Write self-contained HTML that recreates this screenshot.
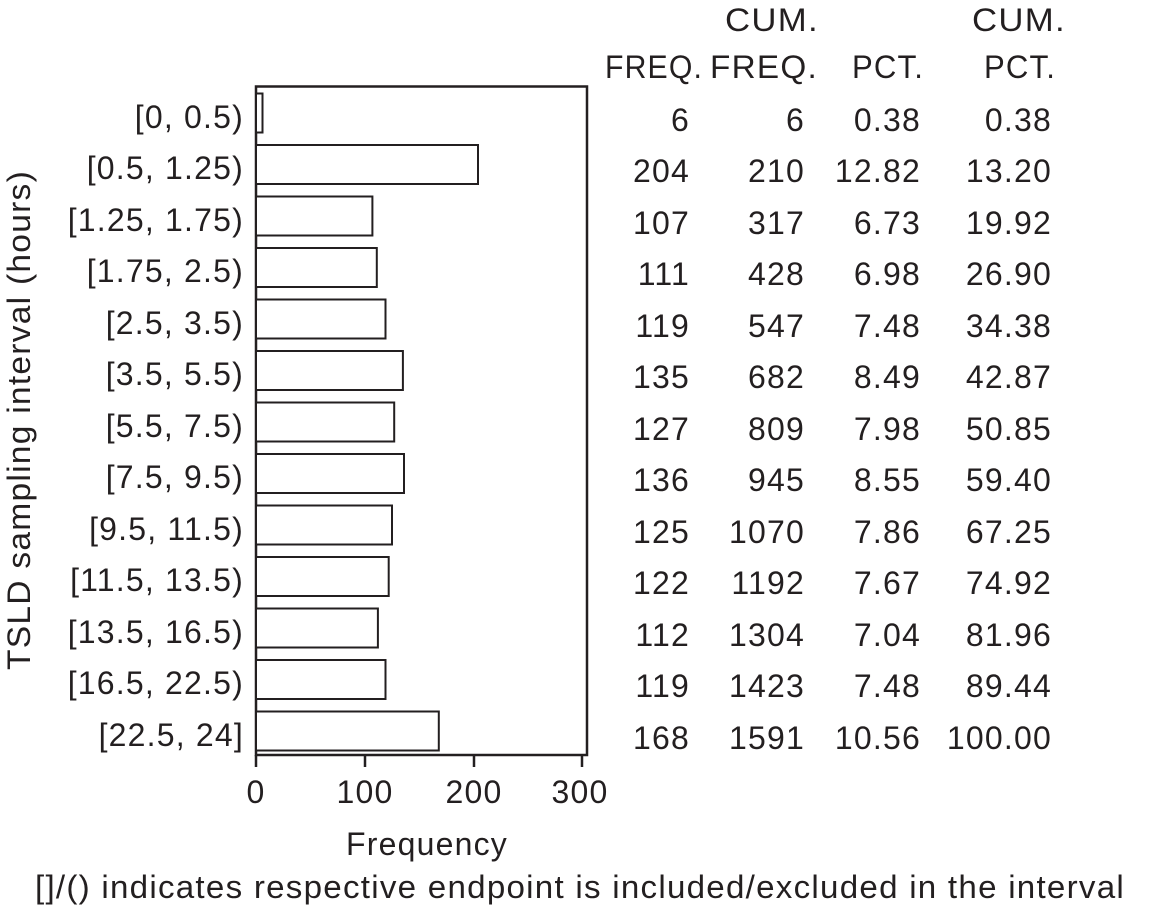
<!DOCTYPE html>
<html><head><meta charset="utf-8"><style>
html,body{margin:0;padding:0;background:#fff}
svg{display:block}
text{font-family:"Liberation Sans",sans-serif;font-size:32px;letter-spacing:1.2px;fill:#231f20}
</style></head><body>
<svg width="1158" height="913" viewBox="0 0 1158 913" xmlns="http://www.w3.org/2000/svg">
<rect x="256" y="86.5" width="331" height="668.5" fill="none" stroke="#231f20" stroke-width="2.5"/>
<g stroke="#231f20" stroke-width="2" fill="#fff">
<rect x="256" y="93.5" width="6.5" height="39"/>
<rect x="256" y="145" width="222" height="39"/>
<rect x="256" y="196.5" width="116.4" height="39"/>
<rect x="256" y="248" width="120.8" height="39"/>
<rect x="256" y="299.5" width="129.5" height="39"/>
<rect x="256" y="351" width="146.9" height="39"/>
<rect x="256" y="402.5" width="138.2" height="39"/>
<rect x="256" y="454" width="148" height="39"/>
<rect x="256" y="505.5" width="136" height="39"/>
<rect x="256" y="557" width="132.7" height="39"/>
<rect x="256" y="608.5" width="121.9" height="39"/>
<rect x="256" y="660" width="129.5" height="39"/>
<rect x="256" y="711.5" width="182.8" height="39"/>
</g>
<g stroke="#231f20" stroke-width="2.5">
<line x1="256" y1="755" x2="256" y2="767"/><line x1="365" y1="755" x2="365" y2="767"/>
<line x1="474" y1="755" x2="474" y2="767"/><line x1="582" y1="755" x2="582" y2="767"/>
</g>
<g text-anchor="middle">
<text x="256" y="803">0</text><text x="365" y="803">100</text><text x="474" y="803">200</text><text x="580" y="803">300</text>
<text x="427" y="855" textLength="162" lengthAdjust="spacingAndGlyphs">Frequency</text>
<text x="580" y="898" textLength="1090" lengthAdjust="spacingAndGlyphs">[]/() indicates respective endpoint is included/excluded in the interval</text>
<text transform="translate(30,420) rotate(-90)" textLength="500" lengthAdjust="spacingAndGlyphs">TSLD sampling interval (hours)</text>
<text x="654" y="78" textLength="98" lengthAdjust="spacingAndGlyphs">FREQ.</text>
<text x="772" y="31" textLength="94" lengthAdjust="spacingAndGlyphs">CUM.</text><text x="764" y="78" textLength="108" lengthAdjust="spacingAndGlyphs">FREQ.</text>
<text x="888" y="78" textLength="72" lengthAdjust="spacingAndGlyphs">PCT.</text>
<text x="1019" y="31" textLength="94" lengthAdjust="spacingAndGlyphs">CUM.</text><text x="1020" y="78" textLength="72" lengthAdjust="spacingAndGlyphs">PCT.</text>
</g>
<g text-anchor="end">
<text x="244" y="128">[0, 0.5)</text>
<text x="244" y="179">[0.5, 1.25)</text>
<text x="244" y="231">[1.25, 1.75)</text>
<text x="244" y="282">[1.75, 2.5)</text>
<text x="244" y="334">[2.5, 3.5)</text>
<text x="244" y="385">[3.5, 5.5)</text>
<text x="244" y="437">[5.5, 7.5)</text>
<text x="244" y="488">[7.5, 9.5)</text>
<text x="244" y="540">[9.5, 11.5)</text>
<text x="244" y="591">[11.5, 13.5)</text>
<text x="244" y="643">[13.5, 16.5)</text>
<text x="244" y="694">[16.5, 22.5)</text>
<text x="244" y="746">[22.5, 24]</text>
</g>
<g text-anchor="end">
<text x="690" y="131">6</text><text x="805" y="131">6</text><text x="921" y="131">0.38</text><text x="1052" y="131">0.38</text>
<text x="690" y="182">204</text><text x="805" y="182">210</text><text x="921" y="182">12.82</text><text x="1052" y="182">13.20</text>
<text x="690" y="234">107</text><text x="805" y="234">317</text><text x="921" y="234">6.73</text><text x="1052" y="234">19.92</text>
<text x="690" y="285">111</text><text x="805" y="285">428</text><text x="921" y="285">6.98</text><text x="1052" y="285">26.90</text>
<text x="690" y="337">119</text><text x="805" y="337">547</text><text x="921" y="337">7.48</text><text x="1052" y="337">34.38</text>
<text x="690" y="388">135</text><text x="805" y="388">682</text><text x="921" y="388">8.49</text><text x="1052" y="388">42.87</text>
<text x="690" y="440">127</text><text x="805" y="440">809</text><text x="921" y="440">7.98</text><text x="1052" y="440">50.85</text>
<text x="690" y="491">136</text><text x="805" y="491">945</text><text x="921" y="491">8.55</text><text x="1052" y="491">59.40</text>
<text x="690" y="543">125</text><text x="805" y="543">1070</text><text x="921" y="543">7.86</text><text x="1052" y="543">67.25</text>
<text x="690" y="594">122</text><text x="805" y="594">1192</text><text x="921" y="594">7.67</text><text x="1052" y="594">74.92</text>
<text x="690" y="646">112</text><text x="805" y="646">1304</text><text x="921" y="646">7.04</text><text x="1052" y="646">81.96</text>
<text x="690" y="697">119</text><text x="805" y="697">1423</text><text x="921" y="697">7.48</text><text x="1052" y="697">89.44</text>
<text x="690" y="749">168</text><text x="805" y="749">1591</text><text x="921" y="749">10.56</text><text x="1052" y="749">100.00</text>
</g>
</svg>
</body></html>
